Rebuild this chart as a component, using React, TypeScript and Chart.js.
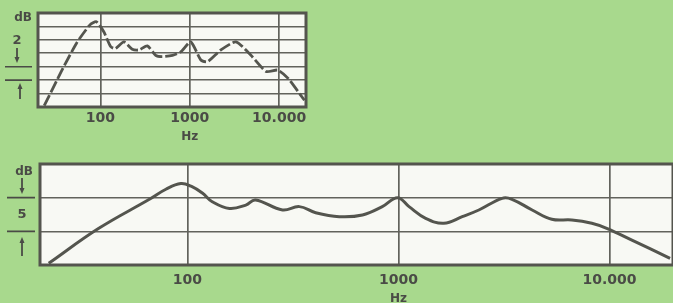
import React, { useEffect, useRef } from 'react';
import { Chart, registerables } from 'chart.js';
Chart.register(...registerables);

// ---- data (frequency in Hz, level in dB above bottom of frame) ----
const topFreq = [23.5, 36.5, 54, 76, 90, 109, 130, 147, 183, 227, 269, 335, 415, 493, 640, 794, 1026, 1330, 1580, 2230, 3290, 4840, 7140, 9670, 12520, 19200];
const topDb = [0.2, 5.3, 9.5, 12.2, 12.7, 11.2, 9.0, 8.7, 9.7, 8.6, 8.5, 9.1, 7.7, 7.5, 7.7, 8.2, 9.7, 7.0, 6.75, 8.5, 9.7, 7.7, 5.3, 5.5, 4.3, 1.0];

const bottomFreq = [22, 38, 66, 79, 93, 104, 118, 131, 158, 189, 210, 282, 339, 405, 524, 675, 838, 990, 1122, 1345, 1640, 2005, 2404, 3100, 3450, 4300, 5330, 6630, 8250, 9700, 12770, 19370];
const bottomDb = [0.25, 5.45, 9.76, 11.25, 12.1, 11.7, 10.65, 9.4, 8.4, 8.9, 9.66, 8.17, 8.67, 7.77, 7.18, 7.43, 8.67, 10.0, 8.67, 6.93, 6.2, 7.18, 8.17, 9.9, 9.76, 8.17, 6.79, 6.69, 6.2, 5.45, 3.7, 0.99];

const freqTicks = [100, 1000, 10000];
const freqTickLabels = ['100', '1000', '10.000'];
const unitLabel = 'Hz';
const dbLabel = 'dB';
const topStepLabel = '2';
const bottomStepLabel = '5';

const BG = '#a8d98d';
const PLOT = '#f8f9f4';
const INK = '#54554e';
const GRID = '#62635c';
const TEXT = '#4a4b46';
const FONT = '"DejaVu Sans", sans-serif';

function drawArrow(ctx: CanvasRenderingContext2D, x: number, yFrom: number, yTo: number) {
  const dir = yTo > yFrom ? 1 : -1;
  ctx.beginPath();
  ctx.moveTo(x, yFrom);
  ctx.lineTo(x, yTo - dir * 4);
  ctx.stroke();
  ctx.beginPath();
  ctx.moveTo(x, yTo);
  ctx.lineTo(x - 2.5, yTo - dir * 6);
  ctx.lineTo(x + 2.5, yTo - dir * 6);
  ctx.closePath();
  ctx.fill();
}

type Annot = {
  dbXY: [number, number];
  stepXY: [number, number];
  stepText: string;
  upperVal: number;
  lowerVal: number;
  lineX: [number, number];
  downArrow: [number, number, number];
  upArrow: [number, number, number];
  hzY: number;
};

function framePlugin(annot: Annot) {
  return {
    id: 'frame',
    beforeDraw(chart: any) {
      const { ctx, chartArea: a } = chart;
      ctx.save();
      ctx.fillStyle = PLOT;
      ctx.fillRect(a.left, a.top, a.right - a.left, a.bottom - a.top);
      ctx.restore();
    },
    beforeDatasetsDraw(chart: any) {
      const { ctx, chartArea: a } = chart;
      ctx.save();
      ctx.strokeStyle = INK;
      ctx.lineWidth = 3;
      ctx.strokeRect(a.left, a.top, a.right - a.left, a.bottom - a.top);
      ctx.restore();
    },
    afterDraw(chart: any) {
      const { ctx } = chart;
      const y = chart.scales.y;
      const x = chart.scales.x;
      ctx.save();
      ctx.fillStyle = TEXT;
      ctx.strokeStyle = TEXT;
      ctx.textAlign = 'center';
      ctx.textBaseline = 'middle';
      ctx.font = `bold 12px ${FONT}`;
      ctx.fillText(dbLabel, annot.dbXY[0], annot.dbXY[1]);
      ctx.font = `bold 13px ${FONT}`;
      ctx.fillText(annot.stepText, annot.stepXY[0], annot.stepXY[1]);
      ctx.lineWidth = 1.6;
      const yu = y.getPixelForValue(annot.upperVal);
      const yl = y.getPixelForValue(annot.lowerVal);
      ctx.beginPath();
      ctx.moveTo(annot.lineX[0], yu);
      ctx.lineTo(annot.lineX[1], yu);
      ctx.moveTo(annot.lineX[0], yl);
      ctx.lineTo(annot.lineX[1], yl);
      ctx.stroke();
      ctx.lineWidth = 1.8;
      drawArrow(ctx, annot.downArrow[0], annot.downArrow[1], annot.downArrow[2]);
      drawArrow(ctx, annot.upArrow[0], annot.upArrow[1], annot.upArrow[2]);
      ctx.font = `bold 12px ${FONT}`;
      ctx.fillText(unitLabel, x.getPixelForValue(1000), annot.hzY);
      ctx.restore();
    },
  };
}

function makeChart(
  canvas: HTMLCanvasElement,
  freq: number[],
  db: number[],
  opts: {
    pad: { left: number; right: number; top: number; bottom: number };
    yMax: number;
    yStep: number;
    axisH: number;
    tickPad: number;
    lineW: number;
    dash: number[];
    tension: number;
    annot: Annot;
  }
) {
  return new Chart(canvas, {
    type: 'line',
    data: {
      datasets: [
        {
          data: freq.map((f, i) => ({ x: f, y: db[i] })),
          borderColor: INK,
          borderWidth: opts.lineW,
          borderDash: opts.dash,
          pointRadius: 0,
          tension: opts.tension,
          fill: false,
        },
      ],
    },
    options: {
      responsive: false,
      animation: false,
      devicePixelRatio: 1,
      layout: { padding: opts.pad },
      plugins: { legend: { display: false }, tooltip: { enabled: false } },
      scales: {
        x: {
          type: 'logarithmic',
          min: 20,
          max: 20000,
          afterBuildTicks: (s: any) => {
            s.ticks = freqTicks.map((v) => ({ value: v }));
          },
          afterFit: (s: any) => {
            s.height = opts.axisH;
          },
          ticks: {
            autoSkip: false,
            maxRotation: 0,
            padding: opts.tickPad,
            color: TEXT,
            font: { family: FONT, size: 14, weight: 'bold' },
            callback: (v: any) => {
              const i = freqTicks.indexOf(Number(v));
              return i >= 0 ? freqTickLabels[i] : '';
            },
          },
          grid: { color: GRID, lineWidth: 1.7, drawTicks: false },
          border: { display: false },
        },
        y: {
          min: 0,
          max: opts.yMax,
          afterFit: (s: any) => {
            s.width = 0;
          },
          ticks: { display: false, stepSize: opts.yStep },
          grid: { color: GRID, lineWidth: 1.6, drawTicks: false },
          border: { display: false },
        },
      },
    } as any,
    plugins: [framePlugin(opts.annot)],
  });
}

export default function App() {
  const topRef = useRef<HTMLCanvasElement>(null);
  const botRef = useRef<HTMLCanvasElement>(null);

  useEffect(() => {
    const c1 = makeChart(topRef.current!, topFreq, topDb, {
      pad: { left: 38, right: 14, top: 13, bottom: 0 },
      yMax: 14,
      yStep: 2,
      axisH: 43,
      tickPad: 3,
      lineW: 2.8,
      dash: [12, 3],
      tension: 0.2,
      annot: {
        dbXY: [23, 18],
        stepXY: [17, 41],
        stepText: topStepLabel,
        upperVal: 6,
        lowerVal: 4,
        lineX: [5, 32],
        downArrow: [17, 48, 63],
        upArrow: [20, 99, 83],
        hzY: 137,
      },
    });
    const c2 = makeChart(botRef.current!, bottomFreq, bottomDb, {
      pad: { left: 40, right: 0, top: 14, bottom: 0 },
      yMax: 15,
      yStep: 5,
      axisH: 38,
      tickPad: 7,
      lineW: 3,
      dash: [],
      tension: 0.4,
      annot: {
        dbXY: [24, 22],
        stepXY: [22, 65],
        stepText: bottomStepLabel,
        upperVal: 10,
        lowerVal: 5,
        lineX: [7, 35],
        downArrow: [22, 28, 44],
        upArrow: [22, 106, 87],
        hzY: 149,
      },
    });
    return () => {
      c1.destroy();
      c2.destroy();
    };
  }, []);

  return (
    <div style={{ position: 'absolute', left: 0, top: 0, width: 673, height: 303, background: BG, overflow: 'hidden' }}>
      <canvas ref={topRef} width={320} height={150} style={{ position: 'absolute', left: 0, top: 0 }} />
      <canvas ref={botRef} width={673} height={153} style={{ position: 'absolute', left: 0, top: 150 }} />
    </div>
  );
}
